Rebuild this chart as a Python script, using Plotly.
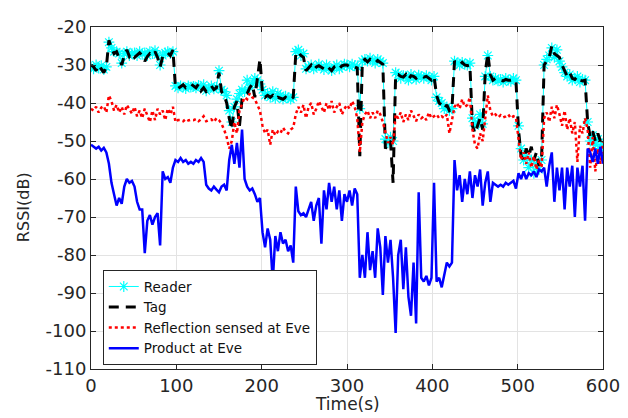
import plotly.graph_objects as go

# time axis (s), one sample every 3 s
time_s = list(range(0, 601, 3))

reader = [
    -30.5, -31, -30, -30.8, -30.2, -31.2, -30.5, -24, -25.5, -26.5,
    -26.5, -27, -29.5, -27, -26.5, -27.5, -27, -26.8, -27.5, -26.5,
    -27.2, -26.8, -27.5, -26.5, -27, -26.2, -27.3, -30, -27.5, -26.8,
    -26.5, -27, -26.5, -35.5, -36, -35.5, -35.8, -36.2, -35.5, -35.8,
    -35.6, -36, -35.4, -35.8, -35.2, -36.8, -36.2, -35.5, -36.3, -35.8,
    -31.5, -36.5, -37, -38, -42, -45, -41, -39, -37.5, -36.5,
    -37, -34, -36, -35, -33.5, -34, -35, -36.5, -38, -37.5,
    -38.5, -37, -38.8, -37.5, -38, -39, -38.2, -38.6, -39, -38.5,
    -26.5, -26, -27.5, -27, -31, -30.5, -30, -31, -30.5, -29.8,
    -30.5, -31.2, -30, -30.8, -31.5, -30.5, -30, -31, -30.5, -29.8,
    -30, -30.5, -29.8, -30.2, -30.5, -41.5, -29, -28.5, -29, -28.2,
    -28.8, -29.5, -28.5, -29, -29.5, -49.5, -50.5, -49, -50, -32,
    -32.5, -33.5, -32.8, -33, -34, -32.5, -33.2, -33.8, -32.7, -33,
    -33.5, -32.8, -33.2, -34, -33, -38.5, -39.5, -40, -41.5, -41,
    -42, -41.5, -29, -29.5, -30, -29.3, -29.8, -30, -29.5, -44,
    -46, -45, -43, -45.5, -33, -27.5, -33, -34, -33.5, -34.2,
    -33.8, -34.5, -33.5, -34, -34.3, -33.5, -34, -46, -52, -55,
    -54, -57, -55, -58.5, -56, -57.5, -55, -30, -28.5, -27.5,
    -25.5, -28, -26, -29, -30.5, -32, -33, -32.5, -34, -33.5,
    -33, -34.5, -33.8, -34, -45, -50, -48.5, -51, -49.5, -52,
    -51,
]

tag = [
    -30, -30.5, -31.5, -30, -31, -32, -30.5, -23.5, -25.5, -27,
    -26.5, -28.5, -30, -27.5, -26, -27.8, -27, -28, -27.5, -26.8,
    -27.5, -29, -27.8, -27, -27.5, -26.5, -28, -30.5, -27.8, -27,
    -26.8, -27.5, -26, -36, -36.2, -35.6, -35.2, -36, -35.5, -35,
    -35.5, -36, -35, -36.8, -36, -37, -36.5, -35.5, -36.5, -36,
    -32, -37, -38, -40, -44, -47, -41, -39.5, -46, -39,
    -38, -37.5, -36, -35, -38.5, -34, -28.5, -37.5, -38.5, -38,
    -38.5, -38, -39, -38.5, -38.8, -39, -38.5, -39.2, -39, -38.5,
    -27, -26.5, -27.5, -28, -31.5, -30.8, -30, -31.2, -30.5, -30.2,
    -30.5, -31, -30.2, -31, -31.5, -30.5, -30.2, -31, -30.2, -30,
    -30, -30.5, -30.2, -30.5, -30.8, -54, -29, -28.5, -29.2, -28.5,
    -29, -29.5, -28.8, -29.2, -29.8, -52, -50.5, -50, -61, -32.5,
    -32.5, -33, -33.2, -32.5, -33.8, -32.8, -33, -33.5, -33, -32.8,
    -33.2, -33, -33.5, -34, -33, -38, -40, -40.5, -41.5, -40.5,
    -42, -41.5, -29, -29.5, -30, -29.3, -30, -30.2, -30, -46,
    -48, -46, -44, -47, -32, -27, -32.5, -34, -33.5, -34,
    -34, -34.2, -33.8, -34, -34, -33.8, -34.2, -47, -54, -55,
    -52, -54, -51.5, -55, -53, -56.5, -55, -30, -29, -28,
    -25, -27, -27.5, -28, -30, -31.5, -33, -32, -33.5, -33.8,
    -33, -34, -34.2, -34, -45, -49, -47.5, -50, -48, -50,
    -49,
]

reflection = [
    -41.5, -42, -41, -42.5, -41.2, -40.8, -42.5, -38, -39.5, -42,
    -40.5, -42.5, -41, -43, -40.5, -41.8, -42.8, -41, -43.5, -42,
    -44, -41.5, -43.5, -45, -42, -44.5, -41.5, -43, -42, -44.5,
    -41.5, -43, -41, -45, -44.5, -44.5, -44.8, -44.2, -44.6, -44.4,
    -44.5, -44.2, -44.8, -44.3, -43.5, -44.8, -44.5, -44.3, -45, -44,
    -44.5, -45.5, -47, -49, -52, -50, -45, -48, -42, -40,
    -38.5, -39, -37.5, -38.5, -39, -40.5, -42, -46, -48, -47,
    -51, -47, -48.5, -47.5, -48, -46.5, -47.5, -48, -47, -46.5,
    -43, -41, -42.5, -40.5, -44, -41, -40, -43, -41.5, -39.5,
    -41, -42.5, -40, -41.8, -39.5, -42.5, -41, -40, -43, -41.5,
    -40.5, -41.5, -39.5, -41, -44, -53, -45, -43, -42, -44,
    -42.5, -44, -42, -43, -45, -48, -50.5, -49, -51, -43,
    -44, -42.5, -45, -43, -44.5, -42, -43.5, -44.8, -43, -44,
    -43.5, -44.5, -42.5, -44, -43.5, -43, -44, -43.5, -44, -43,
    -48, -44, -41, -40, -41.5, -39, -41, -40.5, -38.5, -47,
    -51, -52, -48, -50, -44, -38, -42, -43.5, -43, -43.8,
    -43.2, -43.8, -43.5, -43, -44, -43.5, -43.8, -50, -55, -53,
    -56, -53, -57, -54, -57.5, -55, -57, -44, -42.5, -45,
    -41, -44, -40.5, -43, -46, -42, -47, -44, -48, -45,
    -55.5, -46, -48, -44, -47, -57, -49, -58, -52, -56,
    -50,
]

product = [
    -51, -51.5, -52, -51.5, -52.5, -51.8, -53, -56, -61, -64,
    -67, -65, -66.5, -62, -60, -61, -60.5, -62, -66, -68,
    -68, -79.5, -71, -69.5, -72, -70, -69, -77.5, -58, -60,
    -59.5, -61, -57, -55, -55.5, -54.5, -55.5, -55, -56, -55.5,
    -56, -55, -55.5, -54.5, -55.5, -61.5, -62.5, -63, -62, -62.8,
    -63.5, -62, -61.5, -63, -55, -51, -56, -50.5, -57, -47,
    -60, -62, -63, -62.5, -64, -66, -65, -74, -78, -73,
    -76, -87, -75, -79, -74, -77, -76, -79, -77.5, -82,
    -62, -68.5, -69.5, -69, -70, -68, -66, -71, -67, -65,
    -77, -63, -68, -61, -66, -62, -68, -63, -71, -64,
    -66, -63, -67, -62.5, -64, -86, -80, -86, -74, -84,
    -79, -86, -73, -78, -90.5, -75, -82, -76, -86, -100.5,
    -80, -76, -89, -78, -91, -96, -82, -98, -63.5, -86,
    -87, -85.5, -88, -86, -61, -87, -86, -88.5, -85, -82,
    -83, -82, -55, -63, -59, -66, -60, -64, -58, -65,
    -59, -62, -57.5, -67, -61, -58, -66, -61, -61.5, -62,
    -61.5, -62, -61, -61.5, -61, -60.5, -62.5, -58.5, -60, -58,
    -60, -58.5, -59, -58, -59.5, -57.5, -58, -57, -62, -56.5,
    -53, -66, -57, -63, -57, -68, -57, -62, -56.5, -70,
    -57, -62, -56.5, -71, -52, -53, -55.5, -52, -56, -51.5,
    -56,
]

x_ticks = [0, 100, 200, 300, 400, 500, 600]
y_ticks = [-110, -100, -90, -80, -70, -60, -50, -40, -30, -20]
x_ticktext = [str(v) for v in x_ticks]
y_ticktext = [str(v) for v in y_ticks]  # plain hyphen-minus like the original

font_family = "DejaVu Sans, Liberation Sans, Arial, sans-serif"
text_color = "#262626"

fig = go.Figure()
fig.add_trace(go.Scatter(
    x=time_s, y=reader, name="Reader", mode="lines+markers",
    line=dict(color="#00FFFF", width=1),
    marker=dict(symbol="asterisk-open", size=9, color="#00FFFF",
                line=dict(color="#00FFFF", width=1.2)),
))
fig.add_trace(go.Scatter(
    x=time_s, y=tag, name="Tag", mode="lines",
    line=dict(color="black", width=3, dash="10px,7px"),
))
fig.add_trace(go.Scatter(
    x=time_s, y=reflection, name="Reflection sensed at Eve", mode="lines",
    line=dict(color="#FF0000", width=2.5, dash="3px,3px"),
))
fig.add_trace(go.Scatter(
    x=time_s, y=product, name="Product at Eve", mode="lines",
    line=dict(color="#0000FF", width=2.5),
))

axis_common = dict(
    showgrid=True, gridcolor="#E3E3E3", gridwidth=1,
    showline=True, linecolor=text_color, linewidth=1, mirror="ticks",
    ticks="inside", ticklen=5, tickcolor=text_color,
    zeroline=False, ticklabeloverflow="allow",
    tickfont=dict(family=font_family, size=18, color=text_color),
)

# The page body has an 8 px default margin, so the figure is 8 px smaller
# and its margins 8 px narrower on the left/top.
fig.update_layout(
    width=620, height=410,
    margin=dict(l=83, r=19, t=8, b=49),
    paper_bgcolor="white", plot_bgcolor="white",
    font=dict(family=font_family, color=text_color),
    xaxis=dict(range=[0, 600], tickvals=x_ticks, ticktext=x_ticktext, **axis_common),
    yaxis=dict(range=[-110, -20], tickvals=y_ticks, ticktext=y_ticktext, **axis_common),
    legend=dict(
        x=0.023, y=0.15, xanchor="left", yanchor="middle",
        bgcolor="white", bordercolor=text_color, borderwidth=1,
        font=dict(family=font_family, size=13.5, color="#111111"),
        tracegroupgap=0, itemwidth=30,
    ),
    showlegend=True,
    annotations=[
        dict(text="Time(s)", xref="paper", yref="paper", x=0.5, y=-0.102,
             xanchor="center", yanchor="middle", showarrow=False,
             font=dict(family=font_family, size=17, color=text_color)),
        dict(text="RSSI(dB)", xref="paper", yref="paper", x=-0.133, y=0.473,
             xanchor="center", yanchor="middle", showarrow=False, textangle=-90,
             font=dict(family=font_family, size=16, color=text_color)),
    ],
)

fig.write_html("out.html")
